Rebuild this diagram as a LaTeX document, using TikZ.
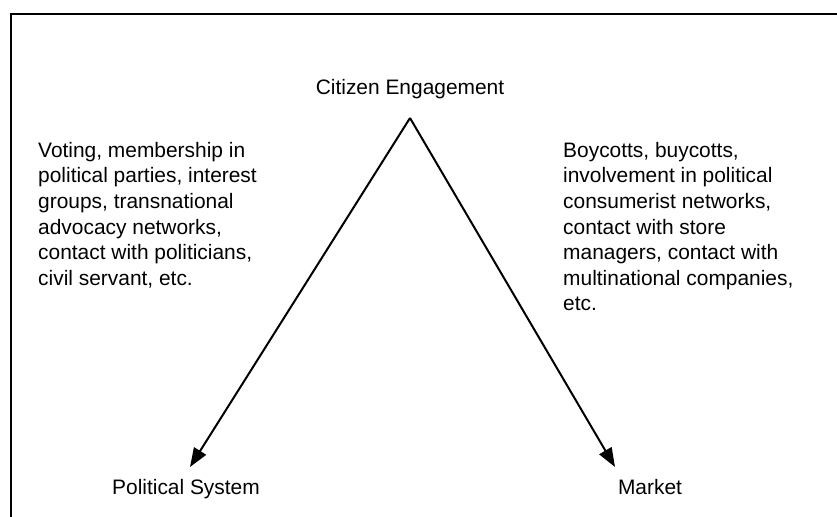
\documentclass[tikz,border=0pt]{standalone}
\usepackage{fontspec}
\setmainfont{Liberation Sans}
\usetikzlibrary{arrows.meta}
\tikzset{
  lbl/.style={inner sep=0pt, font=\fontsize{21}{25.7}\selectfont},
  block/.style={lbl, align=left, anchor=north west},
  conn/.style={line width=2bp, -{Triangle[length=19bp,width=14bp]}},
  frame/.style={line width=2.5bp}
}
\begin{document}
\begin{tikzpicture}[x=1bp,y=-1bp]
\useasboundingbox (0,0) rectangle (837,517);
\draw[frame] (837,14) -- (11,14) -- (11,517);
\node[lbl, anchor=base] (ce) at (410,95) {Citizen Engagement};
\coordinate (apex) at (410,118);
\coordinate (lt) at (190,467);
\coordinate (rt) at (615,467);
\node[lbl, anchor=base] (ps) at (186,494) {Political System};
\node[lbl, anchor=base] (mk) at (650,494) {Market};
\node[block] (left) at (38,142) {Voting, membership in\\political parties, interest\\groups, transnational\\advocacy networks,\\contact with politicians,\\civil servant, etc.};
\node[block] (right) at (563,142) {Boycotts, buycotts,\\involvement in political\\consumerist networks,\\contact with store\\managers, contact with\\multinational companies,\\etc.};
\draw[conn] (apex) -- (lt);
\draw[conn] (apex) -- (rt);
\end{tikzpicture}
\end{document}
